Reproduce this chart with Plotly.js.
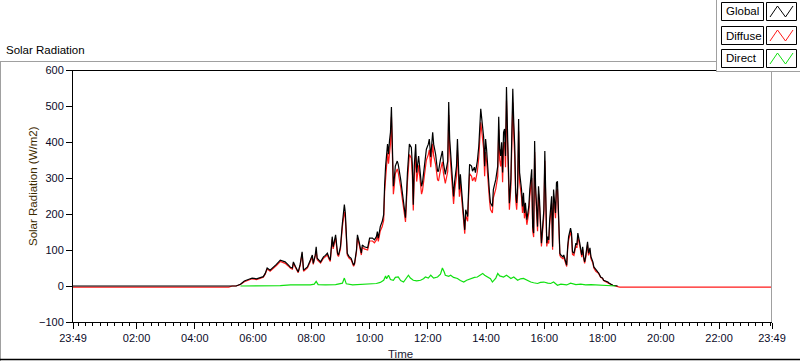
<!DOCTYPE html>
<html>
<head>
<meta charset="utf-8">
<script src="https://cdn.plot.ly/plotly-3.0.1.min.js"></script>
<style>
  html, body { margin: 0; padding: 0; background: #ffffff; }
  #chart { width: 800px; height: 361px; }
</style>
</head>
<body>
<div id="chart"></div>
<script>
// ---------------- DATA ----------------
const dayStart = '2024-05-01 23:49';
const dayEnd = '2024-05-02 23:49';
const dayPrefix = '2024-05-02 ';

const tickLabels = ['23:49', '02:00', '04:00', '06:00', '08:00', '10:00', '12:00', '14:00', '16:00', '18:00', '20:00', '22:00', '23:49'];

const times = ['05:17','05:25','05:34','05:42','05:50','05:58','06:07','06:15','06:21','06:25','06:29','06:35','06:42','06:48','06:56','07:02','07:06','07:13','07:17','07:21','07:23','07:27','07:31','07:33','07:37','07:39','07:41','07:44','07:48','07:52','07:58','08:02','08:04','08:08','08:10','08:12','08:19','08:25','08:29','08:33','08:37','08:39','08:43','08:45','08:50','08:54','08:56','09:00','09:04','09:08','09:10','09:12','09:14','09:18','09:22','09:27','09:29','09:33','09:35','09:39','09:43','09:45','09:49','09:56','10:00','10:06','10:10','10:14','10:16','10:18','10:22','10:26','10:29','10:31','10:33','10:37','10:39','10:41','10:43','10:45','10:47','10:49','10:51','10:53','10:57','10:59','11:04','11:08','11:10','11:14','11:18','11:20','11:22','11:26','11:28','11:30','11:32','11:35','11:37','11:41','11:43','11:47','11:49','11:53','11:57','12:01','12:03','12:06','12:10','12:12','12:16','12:20','12:22','12:26','12:30','12:32','12:36','12:41','12:43','12:45','12:49','12:51','12:53','12:55','12:59','13:01','13:03','13:05','13:07','13:12','13:14','13:16','13:18','13:22','13:24','13:26','13:30','13:32','13:36','13:38','13:42','13:45','13:49','13:51','13:53','13:55','13:57','13:59','14:01','14:05','14:07','14:09','14:13','14:15','14:20','14:24','14:26','14:28','14:30','14:32','14:34','14:36','14:38','14:40','14:42','14:44','14:46','14:48','14:51','14:53','14:55','14:57','14:59','15:01','15:03','15:05','15:07','15:09','15:13','15:15','15:17','15:19','15:21','15:24','15:26','15:28','15:30','15:34','15:36','15:38','15:40','15:42','15:46','15:48','15:50','15:52','15:54','15:59','16:01','16:03','16:05','16:07','16:09','16:11','16:15','16:17','16:19','16:23','16:25','16:27','16:30','16:32','16:34','16:38','16:40','16:44','16:46','16:48','16:50','16:54','16:56','16:58','17:01','17:05','17:07','17:09','17:11','17:13','17:17','17:19','17:21','17:23','17:25','17:29','17:31','17:34','17:36','17:40','17:42','17:46','17:50','17:52','17:56','18:00','18:02','18:11','18:13','18:21','18:27','18:31'];

const globalW = [0,0,5,14,18,22,20,24,26,35,50,44,52,60,72,70,67,58,52,50,67,55,44,39,60,77,95,44,48,53,72,86,63,85,109,77,67,81,85,91,77,72,137,109,142,91,86,109,175,226,203,156,91,81,77,58,63,100,142,119,91,114,109,106,133,133,128,137,151,133,165,179,198,282,333,394,366,403,427,497,343,277,300,333,347,338,296,254,221,190,315,361,394,385,338,226,333,394,315,361,324,277,287,333,380,394,408,358,427,394,366,319,319,352,375,343,310,347,511,408,333,268,249,287,333,408,352,268,310,221,175,156,212,193,268,338,333,319,330,315,347,389,492,464,445,413,333,408,380,277,259,231,221,268,296,333,470,380,361,399,315,427,436,361,553,436,333,230,296,464,548,455,389,259,231,277,464,315,268,221,259,203,231,184,203,221,268,324,165,147,403,277,165,277,240,156,119,212,375,249,119,137,128,184,249,109,268,203,287,291,137,91,86,81,86,63,58,109,137,161,147,95,91,119,114,147,137,119,86,109,81,67,81,123,91,106,81,67,53,44,39,36,25,22,16,11,8,2,0,0];

const diffuseW = [0,0,4,12,16,20,18,22,24,33,47,41,49,57,68,66,63,55,49,47,63,52,41,37,57,73,90,41,45,50,68,81,60,80,97,73,64,77,81,86,73,68,130,103,134,86,82,103,165,206,190,148,86,77,73,55,60,95,134,112,86,108,103,100,125,125,120,128,140,124,153,165,182,262,310,370,340,375,395,470,318,255,280,312,325,315,275,235,205,178,290,335,365,355,310,210,305,362,290,335,300,255,265,308,350,365,378,330,395,362,338,295,292,322,345,315,285,318,475,375,305,245,228,262,305,378,325,248,285,205,162,145,196,180,248,312,305,292,302,290,318,358,455,430,412,380,305,372,348,255,238,212,203,245,270,305,435,350,332,365,288,390,400,330,515,400,305,212,272,430,510,420,358,238,212,255,430,290,246,203,238,188,212,170,188,204,248,300,152,136,372,255,152,256,222,145,110,196,348,230,110,127,118,170,230,101,248,188,265,270,127,85,80,76,80,59,54,101,127,150,137,88,85,111,106,137,127,111,80,101,76,63,76,115,85,99,76,63,50,41,37,34,24,21,15,10,7,2,0,0];

const diffuseNight = -3;

const directTimes = ['05:34','05:54','06:19','06:35','06:56','07:17','07:37','07:58','08:06','08:10','08:14','08:29','08:50','09:04','09:08','09:12','09:25','09:41','10:02','10:14','10:22','10:29','10:33','10:35','10:39','10:43','10:49','10:53','10:59','11:04','11:10','11:14','11:20','11:24','11:30','11:37','11:45','11:51','11:55','12:01','12:06','12:12','12:20','12:26','12:30','12:34','12:36','12:43','12:47','12:53','13:01','13:07','13:14','13:20','13:28','13:36','13:42','13:49','13:53','13:57','14:03','14:09','14:13','14:20','14:24','14:28','14:36','14:42','14:51','14:57','15:05','15:11','15:17','15:26','15:32','15:38','15:46','15:52','15:59','16:07','16:13','16:19','16:27','16:34','16:40','16:46','16:54','17:05','17:15','17:25','17:36','17:46','17:56','18:07','18:21','18:27'];

const directW = [0,0,1,2,1,3,2,3,5,13,4,3,4,8,22,6,3,4,5,7,10,16,28,20,30,18,16,24,25,15,11,20,30,22,16,14,16,20,25,22,30,22,25,33,50,38,30,27,30,24,21,15,11,16,21,24,25,30,35,30,25,20,11,22,35,28,25,30,21,25,16,20,21,14,11,9,7,10,11,8,7,11,2,5,5,3,8,4,5,3,4,3,2,1,0,0];

// ---------------- BUILD ----------------
const toDate = t => dayPrefix + t;

const gx = [dayStart].concat(times.map(toDate));
const gy = [0].concat(globalW);

const dx = [dayStart, toDate('05:10')].concat(times.map(toDate), [toDate('18:35'), dayEnd]);
const dy = [diffuseNight, diffuseNight].concat(diffuseW, [diffuseNight, diffuseNight]);

const rx = directTimes.map(toDate);
const ry = directW;

const tickVals = tickLabels.map((t, i) => i === 0 ? dayStart : (i === tickLabels.length - 1 ? dayEnd : toDate(t)));

const FONT = 'Liberation Sans, Arial, sans-serif';

const traces = [
  { x: dx, y: dy, type: 'scatter', mode: 'lines', name: 'Diffuse',
    line: { color: '#ff1a1a', width: 1.2 }, hoverinfo: 'skip' },
  { x: gx, y: gy, type: 'scatter', mode: 'lines', name: 'Global',
    line: { color: '#000000', width: 1.2 }, hoverinfo: 'skip' },
  { x: rx, y: ry, type: 'scatter', mode: 'lines', name: 'Direct',
    line: { color: '#10e010', width: 1.2 }, hoverinfo: 'skip' }
];

// plot area in pixels
const L = 73, T = 70, W = 699, H = 252;
const px = p => (p - L) / W;
const py = p => (T + H - p) / H;

const shapes = [];
function hline(x0, x1, y, color, w) {
  shapes.push({ type: 'line', xref: 'paper', yref: 'paper', x0: px(x0), x1: px(x1), y0: py(y), y1: py(y), line: { color: color, width: w || 1 } });
}
function vline(x, y0, y1, color, w) {
  shapes.push({ type: 'line', xref: 'paper', yref: 'paper', x0: px(x), x1: px(x), y0: py(y0), y1: py(y1), line: { color: color, width: w || 1 } });
}
function rect(x0, y0, x1, y1, fill, lineColor) {
  shapes.push({ type: 'rect', xref: 'paper', yref: 'paper', x0: px(x0), x1: px(x1), y0: py(y1), y1: py(y0),
    fillcolor: fill, line: { color: lineColor || 'rgba(0,0,0,0)', width: lineColor ? 1 : 0 } });
}

// panel frame
hline(0, 717, 61.5, '#a0a0a0', 1);
vline(0.5, 61, 361, '#a0a0a0', 1);
hline(0, 800, 359.5, '#000000', 1.5);
// plot box: top (black) and right (grey)
hline(73, 772, 70.5, '#000000', 1);
vline(771.5, 70, 322, '#a0a0a0', 1);

// legend panel
rect(717, 0, 800, 72, '#ffffff');
vline(716.5, 0, 72, '#a0a0a0', 1);
hline(717, 800, 71.5, '#a0a0a0', 1);

const legendNames = ['Global', 'Diffuse', 'Direct'];
const legendColors = ['#000000', '#ff1a1a', '#10e010'];
const rowTops = [2, 26, 49];
const annotations = [];
rowTops.forEach((top, i) => {
  rect(721.5, top + 0.5, 763.5, top + 18.5, '#ffffff', '#000000');
  rect(766.5, top + 0.5, 796.5, top + 18.5, '#ffffff', '#000000');
  const pts = [[770, top + 15], [777.5, top + 4], [785.5, top + 15], [793, top + 4]];
  const path = 'M ' + pts.map(p => px(p[0]) + ',' + py(p[1])).join(' L ');
  shapes.push({ type: 'path', xref: 'paper', yref: 'paper', path: path, line: { color: legendColors[i], width: 1 } });
  annotations.push({ xref: 'paper', yref: 'paper', x: px(723.5), y: py(top + 9.5), xanchor: 'left', yanchor: 'middle',
    text: legendNames[i], showarrow: false, font: { family: FONT, size: 11.5, color: '#000000' } });
});

annotations.push({ xref: 'paper', yref: 'paper', x: px(4), y: py(50), xanchor: 'left', yanchor: 'middle',
  text: 'Solar Radiation', showarrow: false, font: { family: FONT, size: 11.5, color: '#000000' } });
annotations.push({ xref: 'paper', yref: 'paper', x: px(33), y: py(186), xanchor: 'center', yanchor: 'middle', textangle: -90,
  text: 'Solar Radiation (W/m2)', showarrow: false, font: { family: FONT, size: 11.5, color: '#3d2b00' } });
annotations.push({ xref: 'paper', yref: 'paper', x: px(400), y: py(354), xanchor: 'center', yanchor: 'middle',
  text: 'Time', showarrow: false, font: { family: FONT, size: 11.5, color: '#1a1a33' } });

const layout = {
  width: 800, height: 361,
  margin: { l: L, r: 800 - L - W, t: T, b: 361 - T - H, pad: 0 },
  paper_bgcolor: '#ffffff', plot_bgcolor: '#ffffff',
  showlegend: false,
  font: { family: FONT, size: 11, color: '#000000' },
  xaxis: {
    type: 'date', range: [dayStart, dayEnd], fixedrange: true,
    tickmode: 'array', tickvals: tickVals, ticktext: tickLabels,
    ticks: 'outside', ticklen: 6, tickwidth: 1, tickcolor: '#000000',
    showline: true, linecolor: '#000000', linewidth: 1,
    showgrid: false, zeroline: false,
    tickfont: { family: FONT, size: 11, color: '#0a0a28' },
    minor: { ticks: 'outside', ticklen: 3, tickwidth: 1, tickcolor: '#000000', dtick: 15 * 60 * 1000, tick0: '2024-05-02 00:00', showgrid: false }
  },
  yaxis: {
    range: [-100, 600], fixedrange: true,
    tickmode: 'linear', tick0: 0, dtick: 100,
    ticks: 'outside', ticklen: 6, tickwidth: 1, tickcolor: '#000000',
    showline: true, linecolor: '#000000', linewidth: 1,
    showgrid: false, zeroline: false,
    tickfont: { family: FONT, size: 11, color: '#0a0a28' }
  },
  shapes: shapes,
  annotations: annotations
};

Plotly.newPlot('chart', traces, layout, { staticPlot: true, displayModeBar: false });
</script>
</body>
</html>
